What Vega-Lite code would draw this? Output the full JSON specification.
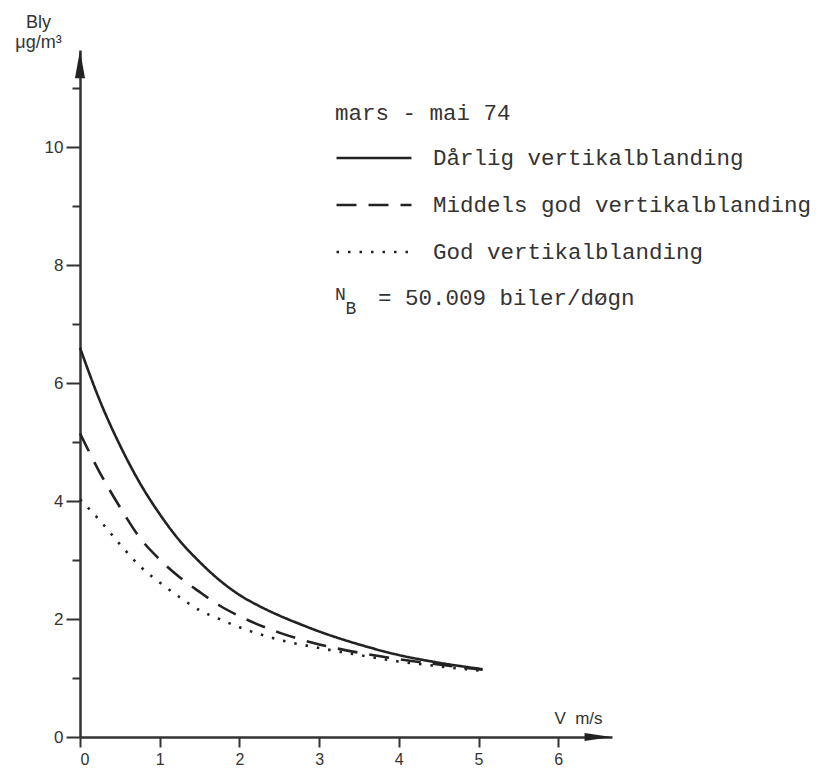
{
  "$schema": "https://vega.github.io/schema/vega-lite/v6.json",
  "width": 532,
  "height": 687,
  "autosize": {"type": "none"},
  "padding": {"left": 80, "top": 50, "right": 211, "bottom": 31},
  "background": "white",
  "config": {
    "view": {"stroke": null},
    "axis": {"grid": false, "domainColor": "#333", "domainWidth": 2.5, "tickColor": "#333", "tickWidth": 2, "labelFont": "Liberation Sans", "labelFontSize": 17, "labelColor": "#333", "titleFont": "Liberation Sans", "titleColor": "#333", "titleFontWeight": "normal", "format": "d"}
  },
  "datasets": {
    "curves": [
      {"v": 0, "bly": 6.6, "serie": "Dårlig vertikalblanding"},
      {"v": 0.25, "bly": 5.7, "serie": "Dårlig vertikalblanding"},
      {"v": 0.5, "bly": 4.95, "serie": "Dårlig vertikalblanding"},
      {"v": 0.75, "bly": 4.31, "serie": "Dårlig vertikalblanding"},
      {"v": 1.0, "bly": 3.78, "serie": "Dårlig vertikalblanding"},
      {"v": 1.25, "bly": 3.33, "serie": "Dårlig vertikalblanding"},
      {"v": 1.5, "bly": 2.97, "serie": "Dårlig vertikalblanding"},
      {"v": 1.75, "bly": 2.66, "serie": "Dårlig vertikalblanding"},
      {"v": 2.0, "bly": 2.41, "serie": "Dårlig vertikalblanding"},
      {"v": 2.25, "bly": 2.22, "serie": "Dårlig vertikalblanding"},
      {"v": 2.5, "bly": 2.06, "serie": "Dårlig vertikalblanding"},
      {"v": 2.75, "bly": 1.92, "serie": "Dårlig vertikalblanding"},
      {"v": 3.0, "bly": 1.79, "serie": "Dårlig vertikalblanding"},
      {"v": 3.5, "bly": 1.57, "serie": "Dårlig vertikalblanding"},
      {"v": 4.0, "bly": 1.39, "serie": "Dårlig vertikalblanding"},
      {"v": 4.5, "bly": 1.26, "serie": "Dårlig vertikalblanding"},
      {"v": 5.05, "bly": 1.15, "serie": "Dårlig vertikalblanding"},
      {"v": 0, "bly": 5.15, "serie": "Middels god vertikalblanding"},
      {"v": 0.25, "bly": 4.48, "serie": "Middels god vertikalblanding"},
      {"v": 0.5, "bly": 3.9, "serie": "Middels god vertikalblanding"},
      {"v": 0.75, "bly": 3.38, "serie": "Middels god vertikalblanding"},
      {"v": 1.0, "bly": 3.01, "serie": "Middels god vertikalblanding"},
      {"v": 1.25, "bly": 2.71, "serie": "Middels god vertikalblanding"},
      {"v": 1.5, "bly": 2.46, "serie": "Middels god vertikalblanding"},
      {"v": 1.75, "bly": 2.23, "serie": "Middels god vertikalblanding"},
      {"v": 2.0, "bly": 2.05, "serie": "Middels god vertikalblanding"},
      {"v": 2.5, "bly": 1.77, "serie": "Middels god vertikalblanding"},
      {"v": 3.0, "bly": 1.57, "serie": "Middels god vertikalblanding"},
      {"v": 3.5, "bly": 1.43, "serie": "Middels god vertikalblanding"},
      {"v": 4.0, "bly": 1.32, "serie": "Middels god vertikalblanding"},
      {"v": 4.5, "bly": 1.23, "serie": "Middels god vertikalblanding"},
      {"v": 5.05, "bly": 1.14, "serie": "Middels god vertikalblanding"},
      {"v": 0, "bly": 4.03, "serie": "God vertikalblanding"},
      {"v": 0.25, "bly": 3.67, "serie": "God vertikalblanding"},
      {"v": 0.5, "bly": 3.27, "serie": "God vertikalblanding"},
      {"v": 0.75, "bly": 2.9, "serie": "God vertikalblanding"},
      {"v": 1.0, "bly": 2.62, "serie": "God vertikalblanding"},
      {"v": 1.25, "bly": 2.37, "serie": "God vertikalblanding"},
      {"v": 1.5, "bly": 2.15, "serie": "God vertikalblanding"},
      {"v": 1.75, "bly": 2.0, "serie": "God vertikalblanding"},
      {"v": 2.0, "bly": 1.86, "serie": "God vertikalblanding"},
      {"v": 2.5, "bly": 1.65, "serie": "God vertikalblanding"},
      {"v": 3.0, "bly": 1.51, "serie": "God vertikalblanding"},
      {"v": 3.5, "bly": 1.39, "serie": "God vertikalblanding"},
      {"v": 4.0, "bly": 1.28, "serie": "God vertikalblanding"},
      {"v": 4.5, "bly": 1.2, "serie": "God vertikalblanding"},
      {"v": 5.05, "bly": 1.12, "serie": "God vertikalblanding"}
    ]
  },
  "layer": [
    {
      "data": {"name": "curves"},
      "mark": {"type": "line", "interpolate": "monotone", "strokeWidth": 2.6, "color": "#222"},
      "encoding": {
        "x": {"field": "v", "type": "quantitative", "scale": {"domain": [0, 6.675], "nice": false, "zero": false},
          "axis": {"values": [0, 1, 2, 3, 4, 5, 6], "tickSize": 10, "labelPadding": 4, "labelFontSize": 16, "title": "V\u00a0\u00a0m/s", "titleFontSize": 17, "titleAnchor": null, "titleX": 498, "titleY": -14, "titleBaseline": "alphabetic", "titleAlign": "center"}},
        "y": {"field": "bly", "type": "quantitative", "scale": {"domain": [0, 11.65], "nice": false},
          "axis": {"values": [0, 1, 2, 3, 4, 5, 6, 7, 8, 9, 10, 11], "labelExpr": "datum.value % 2 === 0 ? datum.label : ''",
            "tickSize": {"condition": {"test": "datum.value % 2 === 0", "value": 14}, "value": 8}, "labelPadding": 3,
            "title": ["Bly", "μg/m³"], "titleAngle": 0, "titleFontSize": 18, "titleLineHeight": 20, "titleAlign": "center", "titleBaseline": "top", "titleX": -42, "titleY": -37}},
        "strokeDash": {"field": "serie", "type": "nominal",
          "scale": {"domain": ["Dårlig vertikalblanding", "Middels god vertikalblanding", "God vertikalblanding"], "range": [[1, 0], [20, 12], [2.5, 9]]},
          "legend": {"orient": "none", "legendX": 255, "legendY": 52, "direction": "vertical",
            "title": "\u00a0\u00a0\u00a0mars - mai 74", "titleFont": "Liberation Mono", "titleFontSize": 22.5, "titleFontWeight": "normal", "titleColor": "#333", "titlePadding": 17,
            "labelFont": "Liberation Mono", "labelFontSize": 22.5, "labelColor": "#333", "labelOffset": 65, "labelLimit": 0,
            "symbolType": "M-1,0H4", "symbolSize": 900, "symbolStrokeWidth": 2.5, "symbolStrokeColor": "#222", "symbolFillColor": "transparent", "rowPadding": 19}}
      }
    },
    {
      "data": {"values": [{}]},
      "mark": {"type": "point", "shape": "M0,-1L-0.36,1L0.36,1Z", "filled": true, "color": "#222", "size": 784, "opacity": 1},
      "encoding": {"x": {"datum": 0}, "y": {"datum": 11.41}}
    },
    {
      "data": {"values": [{}]},
      "mark": {"type": "point", "shape": "M1,0L-1,-0.3L-1,0.3Z", "filled": true, "color": "#222", "size": 729, "opacity": 1},
      "encoding": {"x": {"datum": 6.5}, "y": {"datum": 0}}
    },
    {
      "data": {"values": [{}]},
      "mark": {"type": "text", "text": "N", "font": "Liberation Mono", "fontSize": 18, "color": "#333", "align": "left", "baseline": "middle"},
      "encoding": {"x": {"datum": 3.2}, "y": {"datum": 7.5}}
    },
    {
      "data": {"values": [{}]},
      "mark": {"type": "text", "text": "B", "font": "Liberation Mono", "fontSize": 18, "color": "#333", "align": "left", "baseline": "middle"},
      "encoding": {"x": {"datum": 3.33}, "y": {"datum": 7.25}}
    },
    {
      "data": {"values": [{}]},
      "mark": {"type": "text", "text": "= 50.009 biler/døgn", "font": "Liberation Mono", "fontSize": 22.5, "color": "#333", "align": "left", "baseline": "middle"},
      "encoding": {"x": {"datum": 3.74}, "y": {"datum": 7.44}}
    }
  ]
}
